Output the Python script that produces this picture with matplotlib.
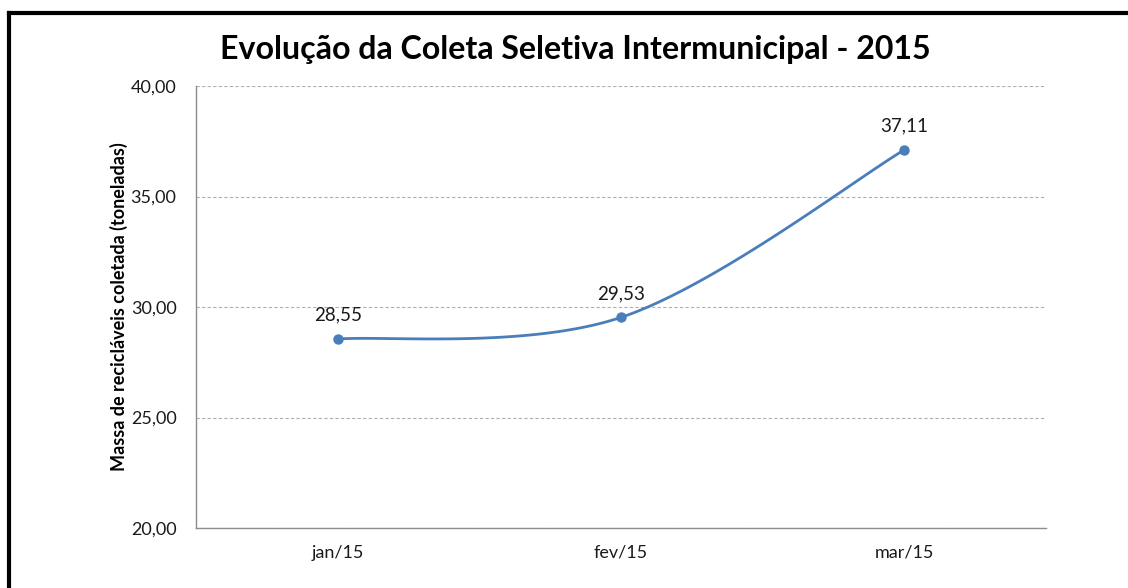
import numpy as np
import matplotlib.pyplot as plt
from matplotlib.lines import Line2D

months = ['jan/15', 'fev/15', 'mar/15']
massa = [28.55, 29.53, 37.11]
labels = ['28,55', '29,53', '37,11']
yticks = [20, 25, 30, 35, 40]
ytick_labels = ['20,00', '25,00', '30,00', '35,00', '40,00']

LINE_COLOR = '#4A7EBB'
plt.rcParams['font.family'] = ['Lato', 'DejaVu Sans']


def smooth_curve(xs, ys, n=60):
    # bezier segments with catmull-rom style control points (like excel smoothing)
    pts = np.column_stack([xs, ys]).astype(float)
    out = []
    for i in range(len(pts) - 1):
        p0 = pts[i - 1] if i > 0 else pts[i]
        p1 = pts[i]
        p2 = pts[i + 1]
        p3 = pts[i + 2] if i + 2 < len(pts) else pts[i + 1]
        c1 = p1 + (p2 - p0) / 6
        c2 = p2 - (p3 - p1) / 6
        t = np.linspace(0, 1, n)[:, None]
        seg = ((1 - t) ** 3) * p1 + 3 * ((1 - t) ** 2) * t * c1 + 3 * (1 - t) * t ** 2 * c2 + t ** 3 * p2
        out.append(seg if i == 0 else seg[1:])
    out = np.vstack(out)
    return out[:, 0], out[:, 1]


fig = plt.figure(figsize=(11.28, 5.88), dpi=100)
ax = fig.add_axes([196 / 1128, 1 - 528 / 588, 850 / 1128, 442 / 588])

x = np.arange(len(months))
sx, sy = smooth_curve(x, massa)
ax.plot(sx, sy, color=LINE_COLOR, lw=2.0, solid_capstyle='round', zorder=3)
ax.plot(x, massa, 'o', color=LINE_COLOR, ms=6.5, zorder=4)

for xi, yi, lab in zip(x, massa, labels):
    ax.annotate(lab, (xi, yi), xytext=(0, 11), textcoords='offset points',
                ha='center', va='bottom', fontsize=13.5, color='#1a1a1a')

ax.set_xlim(-0.5, 2.5)
ax.set_ylim(20, 40)
ax.set_xticks(x)
ax.set_xticklabels(months, fontsize=13, color='#1a1a1a')
ax.set_yticks(yticks)
ax.set_yticklabels(ytick_labels, fontsize=13, color='#1a1a1a')
ax.tick_params(length=0, pad=14)
ax.tick_params(axis='x', pad=12)
ax.grid(axis='y', color='#b0b0b0', linestyle=(0, (3, 2)), lw=0.8)
ax.set_axisbelow(True)
for s in ['top', 'right']:
    ax.spines[s].set_visible(False)
for s in ['left', 'bottom']:
    ax.spines[s].set_color('#8c8c8c')
    ax.spines[s].set_linewidth(1.0)

ax.set_ylabel('Massa de recicláveis coletada (toneladas)', fontsize=13,
              fontweight='bold', labelpad=2)

fig.text(575 / 1128, 1 - 50 / 588, 'Evolução da Coleta Seletiva Intermunicipal - 2015',
         ha='center', va='center', fontsize=23.1, fontweight='bold')

# outer frame (only left and top visible in the crop)
fig.add_artist(Line2D([9 / 1128, 9 / 1128], [0, 1 - 13 / 588], color='black', lw=3,
                      transform=fig.transFigure, solid_capstyle='projecting'))
fig.add_artist(Line2D([9 / 1128, 1.0], [1 - 13 / 588, 1 - 13 / 588], color='black', lw=3,
                      transform=fig.transFigure, solid_capstyle='projecting'))

fig.savefig('out.png', dpi=100)
